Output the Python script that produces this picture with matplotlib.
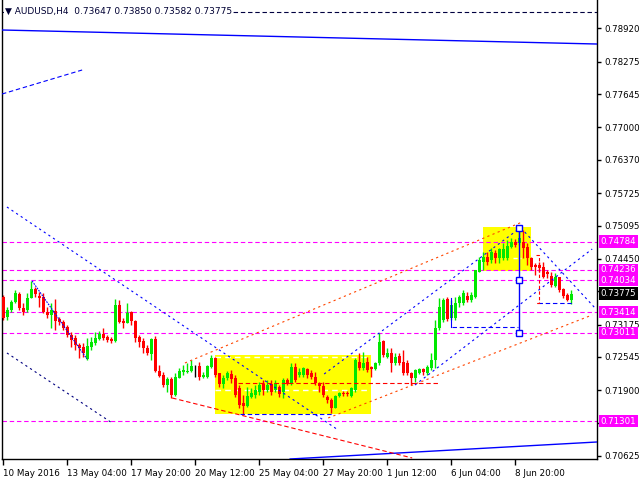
import matplotlib
matplotlib.use("Agg")
import matplotlib.pyplot as plt
from matplotlib.patches import Rectangle

# AUDUSD H4 candles, bar index 0 = 10 May 2016 12:00
opens = [.7371, .7332, .7346, .7361, .7377, .7350, .7346, .7369, .7386, .7373,
         .7371, .7342, .7336, .7344, .7328, .7322, .7313, .7297, .7291, .7278,
         .7274, .7251, .7274, .7282, .7289, .7299, .7293, .7289, .7286, .7355,
         .7324, .7320, .7342, .7324, .7293, .7286, .7272, .7260, .7289, .7227,
         .7219, .7200, .7212, .7181, .7214, .7225, .7225, .7227, .7237, .7237,
         .7216, .7216, .7235, .7253, .7223, .7202, .7214, .7221, .7214, .7194,
         .7165, .7159, .7177, .7181, .7187, .7202, .7191, .7202, .7191, .7196,
         .7187, .7210, .7204, .7235, .7219, .7219, .7231, .7223, .7216, .7204,
         .7198, .7177, .7171, .7156, .7179, .7185, .7185, .7179, .7191, .7245,
         .7233, .7245, .7235, .7231, .7243, .7286, .7254, .7262, .7243, .7256,
         .7245, .7243, .7223, .7214, .7223, .7231, .7223, .7233, .7249, .7311,
         .7326, .7367, .7330, .7330, .7359, .7359, .7373, .7365, .7371, .7420,
         .7439, .7449, .7443, .7456, .7447, .7447, .7447, .7468, .7478, .7476,
         .7478, .7468, .7447, .7433, .7433, .7429, .7420, .7412, .7392, .7410,
         .7386, .7375, .73647]
highs = [.7375, .7351, .7365, .7384, .7381, .7359, .7379, .7402, .7390, .7381,
         .7379, .7351, .7359, .7367, .7332, .7326, .7316, .7303, .7297, .7282,
         .7282, .7291, .7293, .7303, .7305, .7311, .7297, .7293, .7367, .7365,
         .7330, .7359, .7344, .7326, .7297, .7291, .7278, .7291, .7295, .7239,
         .7225, .7216, .7216, .7223, .7233, .7239, .7243, .7249, .7239, .7245,
         .7225, .7239, .7258, .7254, .7223, .7219, .7227, .7229, .7219, .7200,
         .7181, .7196, .7194, .7200, .7206, .7210, .7210, .7210, .7210, .7200,
         .7214, .7214, .7243, .7243, .7233, .7235, .7233, .7229, .7225, .7206,
         .7206, .7181, .7175, .7181, .7187, .7189, .7189, .7196, .7253, .7262,
         .7264, .7254, .7237, .7245, .7301, .7287, .7272, .7272, .7262, .7262,
         .7268, .7249, .7225, .7231, .7233, .7233, .7239, .7262, .7326, .7369,
         .7369, .7371, .7365, .7371, .7375, .7384, .7381, .7381, .7423, .7449,
         .7458, .7458, .7466, .7462, .7466, .7476, .7482, .7485, .7483, .7505,
         .7501, .7476, .7449, .7437, .7439, .7439, .7423, .7420, .7418, .7410,
         .7388, .7379, .73850]
lows = [.7326, .7326, .7342, .7359, .7346, .7336, .7342, .7369, .7371, .7351,
        .7340, .7330, .7311, .7307, .7316, .7307, .7293, .7274, .7268, .7253,
        .7254, .7249, .7268, .7278, .7287, .7287, .7284, .7282, .7284, .7320,
        .7311, .7320, .7316, .7284, .7274, .7262, .7258, .7249, .7225, .7216,
        .7196, .7187, .7175, .7179, .7214, .7219, .7223, .7225, .7216, .7210,
        .7214, .7214, .7233, .7216, .7196, .7194, .7210, .7204, .7177, .7156,
        .7142, .7157, .7175, .7175, .7181, .7181, .7187, .7181, .7187, .7177,
        .7175, .7200, .7200, .7206, .7216, .7216, .7214, .7212, .7200, .7187,
        .7177, .7165, .7146, .7156, .7177, .7179, .7179, .7177, .7187, .7229,
        .7229, .7225, .7216, .7229, .7239, .7254, .7253, .7225, .7239, .7239,
        .7219, .7219, .7200, .7206, .7221, .7219, .7219, .7229, .7233, .7307,
        .7322, .7324, .7326, .7326, .7351, .7355, .7361, .7361, .7369, .7420,
        .7423, .7433, .7437, .7437, .7437, .7443, .7443, .7466, .7468, .7472,
        .7447, .7433, .7423, .7414, .7420, .7408, .7408, .7390, .7390, .7381,
        .7369, .7363, .73582]
closes = [.7330, .7346, .7361, .7379, .7350, .7342, .7369, .7386, .7377, .7369,
          .7342, .7336, .7346, .7324, .7322, .7311, .7297, .7287, .7278, .7272,
          .7262, .7276, .7284, .7291, .7299, .7291, .7287, .7286, .7355, .7322,
          .7320, .7340, .7324, .7291, .7284, .7272, .7262, .7289, .7227, .7218,
          .7200, .7212, .7181, .7216, .7227, .7229, .7227, .7237, .7237, .7216,
          .7219, .7237, .7253, .7219, .7202, .7214, .7223, .7212, .7181, .7161,
          .7159, .7179, .7185, .7191, .7200, .7191, .7200, .7187, .7204, .7183,
          .7210, .7202, .7235, .7210, .7225, .7233, .7219, .7216, .7204, .7198,
          .7181, .7171, .7156, .7179, .7185, .7183, .7183, .7194, .7249, .7233,
          .7243, .7229, .7231, .7243, .7284, .7258, .7262, .7243, .7254, .7243,
          .7223, .7223, .7214, .7229, .7231, .7225, .7235, .7249, .7311, .7351,
          .7365, .7328, .7355, .7359, .7371, .7379, .7365, .7375, .7423, .7443,
          .7449, .7439, .7458, .7447, .7464, .7464, .7470, .7478, .7472, .7485,
          .7466, .7447, .7429, .7429, .7427, .7410, .7416, .7394, .7410, .7384,
          .7373, .73647, .73775]

time_ticks = [0, 16, 32, 48, 64, 80, 96, 112, 128]
time_labels = ["10 May 2016", "13 May 04:00", "17 May 20:00", "20 May 12:00",
               "25 May 04:00", "27 May 20:00", "1 Jun 12:00", "6 Jun 04:00", "8 Jun 20:00"]
price_ticks = [0.78920, 0.78275, 0.77645, 0.77000, 0.76370, 0.75725, 0.75095,
               0.74450, 0.73820, 0.73175, 0.72545, 0.71900, 0.71255, 0.70625]
hidden_ticks = [0.73820, 0.71255]   # covered by the price labels
levels = [0.74784, 0.74236, 0.74034, 0.73414, 0.73011, 0.71301]
last_price = 0.73775

UP = "#00e800"
DOWN = "#ff0000"
BLUE = "#0000ff"
ORANGE = "#ff4500"
MAGENTA = "#ff00ff"

fig = plt.figure(figsize=(6.4, 4.8), dpi=100)
ax = fig.add_axes([2 / 640, 21 / 480, 595 / 640, 459 / 480])
ax.set_xlim(-0.33, 148.4)
ax.set_ylim(0.70566, 0.79471)

# yellow boxes
ax.add_patch(Rectangle((52.9, 0.7144), 39.0, 0.0114, fc="#ffff00", ec="none", zorder=0))
ax.add_patch(Rectangle((119.9, 0.7421), 12.0, 0.0086, fc="#ffff00", ec="none", zorder=0))

# white dashes inside boxes
for lvl in (0.72545, 0.71905):
    ax.plot([52.9, 91.9], [lvl, lvl], color="white", lw=1, dashes=(4, 3), zorder=1)
ax.plot([127.5, 129.5], [0.74466, 0.74466], color="white", lw=1, dashes=(3, 2), zorder=1)

# horizontal levels
for lvl in levels:
    ax.axhline(lvl, color=MAGENTA, lw=0.8, dashes=(4, 2.5), zorder=1)
ax.axhline(0.79238, color="#000040", lw=0.8, dashes=(4, 2.5), zorder=1)

# candles
for i in range(len(opens)):
    o, h, l, c = opens[i], highs[i], lows[i], closes[i]
    col = UP if c > o else (DOWN if c < o else "black")
    ax.plot([i, i], [l, h], color=col, lw=1, solid_capstyle="butt", zorder=2)
    body = max(abs(c - o), 0.00008)
    ax.bar(i, body, bottom=min(o, c), width=0.75, color=col, lw=0, zorder=3)

dot = (2, 3)
dense = (1.5, 1)
dash = (4, 2.5)

# trend lines (bar index, price)
ax.plot([-0.33, 148.4], [0.78889, 0.78617], color=BLUE, lw=1, zorder=4)
ax.plot([71.7, 148.4], [0.70566, 0.70896], color=BLUE, lw=1, zorder=4)
ax.plot([-0.33, 19.7], [0.77647, 0.78113], color=BLUE, lw=0.8, dashes=dash, zorder=4)
ax.plot([0.9, 83.7], [0.75455, 0.71129], color=BLUE, lw=0.8, dashes=dot, zorder=4)
ax.plot([7.2, 20.9], [0.74020, 0.72507], color=BLUE, lw=0.8, dashes=dense, zorder=4)
ax.plot([0.9, 27.2], [0.72623, 0.71265], color="#000080", lw=0.8, dashes=dot, zorder=4)
ax.plot([45.4, 129.7], [0.72429, 0.75164], color=ORANGE, lw=0.8, dashes=dot, zorder=4)
ax.plot([81.2, 147.2], [0.71362, 0.73360], color=ORANGE, lw=0.8, dashes=dot, zorder=4)
ax.plot([42.2, 102.2], [0.71750, 0.70586], color=DOWN, lw=0.8, dashes=dash, zorder=4)
ax.plot([80.2, 130.2], [0.72215, 0.75106], color=BLUE, lw=0.8, dashes=dot, zorder=4)
ax.plot([102.9, 147.2], [0.72002, 0.74640], color=BLUE, lw=0.8, dashes=dot, zorder=4)
ax.plot([129.4, 147.9], [0.75048, 0.73496], color=BLUE, lw=0.8, dashes=dot, zorder=4)

ax.plot([112.2, 128.7], [0.73127, 0.73127], color=BLUE, lw=0.8, dashes=dash, zorder=4)
ax.plot([111.9, 111.9], [0.73690, 0.73127], color=BLUE, lw=0.8, zorder=4)
ax.plot([133.7, 142.2], [0.73593, 0.73593], color=BLUE, lw=0.8, dashes=dash, zorder=4)
ax.plot([59.2, 82.4], [0.71439, 0.71439], color=BLUE, lw=0.8, dashes=dash, zorder=4)
ax.plot([58.7, 109.2], [0.72041, 0.72041], color=DOWN, lw=0.8, dashes=dash, zorder=4)
ax.plot([133.2, 134.0, 134.0, 133.2], [0.74524, 0.74524, 0.73593, 0.73593],
        color=DOWN, lw=0.8, dashes=(3, 2), zorder=4)

# projection with anchor squares
proj = [0.75048, 0.74034, 0.73011]
ax.plot([128.9, 128.9], [proj[0], proj[2]], color=BLUE, lw=1, zorder=5)
ax.plot([128.9] * 3, proj, ls="none", marker="s", ms=5, mfc="white", mec=BLUE, mew=1, zorder=6)

# axes styling
ax.spines["top"].set_visible(False)
for s in ("left", "right", "bottom"):
    ax.spines[s].set_linewidth(1)
ax.yaxis.tick_right()
ax.set_yticks(price_ticks)
ax.set_yticklabels(["" if t in hidden_ticks else "%.5f" % t for t in price_ticks])
ax.tick_params(axis="y", direction="out", length=3, width=1, labelsize=6.2, pad=2.5)
ax.set_xticks(time_ticks)
ax.set_xticklabels(time_labels, ha="left")
ax.tick_params(axis="x", direction="out", length=4, width=1, labelsize=6.3, pad=3)

# price labels on the right
for lvl in levels:
    ax.text(1.006, lvl, "%.5f" % lvl, transform=ax.get_yaxis_transform(), color="white",
            fontsize=6.2, va="center", ha="left", clip_on=False, zorder=10,
            bbox=dict(boxstyle="square,pad=0.2", fc=MAGENTA, ec="none"))
ax.text(1.006, last_price, "%.5f" % last_price, transform=ax.get_yaxis_transform(),
        color="white", fontsize=6.2, va="center", ha="left", clip_on=False, zorder=10,
        bbox=dict(boxstyle="square,pad=0.2", fc="black", ec="none"))

fig.text(5 / 640, 1 - 11 / 480, "\u25bc AUDUSD,H4  0.73647 0.73850 0.73582 0.73775",
         fontsize=6.5, va="center", ha="left", color="#000033",
         bbox=dict(boxstyle="square,pad=0.1", fc="white", ec="none"))

fig.savefig("out.png", dpi=100)
